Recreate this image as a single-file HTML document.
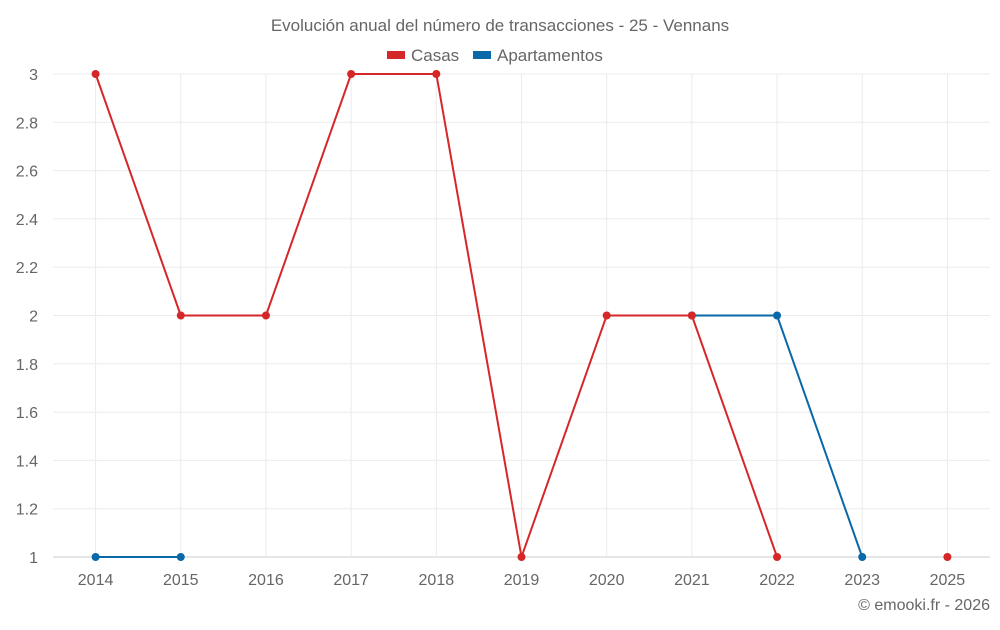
<!DOCTYPE html>
<html><head><meta charset="utf-8"><style>
body{margin:0;background:#fff;font-family:"Liberation Sans",sans-serif}
svg text{font-family:"Liberation Sans",sans-serif;fill:#666}
</style></head><body>
<svg width="1000" height="625">
<text x="500" y="31" text-anchor="middle" font-size="17">Evolución anual del número de transacciones - 25 - Vennans</text>
<g>
<rect x="387" y="51" width="18" height="8" fill="#d62728"/>
<text x="411" y="61" font-size="17">Casas</text>
<rect x="473" y="51" width="18" height="8" fill="#0868a8"/>
<text x="497" y="61" font-size="17">Apartamentos</text>
</g>
<g id="grid"></g><g id="axes"></g><g id="series"></g>
<text x="990" y="610" text-anchor="end" font-size="16">© emooki.fr - 2026</text>
</svg>
<script>
const categories=["2014","2015","2016","2017","2018","2019","2020","2021","2022","2023","2025"];
const casas=[3,2,2,3,3,1,2,2,1,null,1];
const apartamentos=[1,1,null,null,null,null,null,2,2,1,null];
const yTicks=[1,1.2,1.4,1.6,1.8,2,2.2,2.4,2.6,2.8,3];
const L=53,R=990,T=74,B=557,yMin=1,yMax=3;
const bw=(R-L)/categories.length;
const x=i=>L+bw*(i+0.5);
const y=v=>B-(v-yMin)/(yMax-yMin)*(B-T);
const NS="http://www.w3.org/2000/svg";
function mk(tag,attrs,parent){const e=document.createElementNS(NS,tag);for(const k in attrs)e.setAttribute(k,attrs[k]);parent.appendChild(e);return e;}
const grid=document.getElementById('grid'),axes=document.getElementById('axes'),series=document.getElementById('series');
yTicks.forEach(t=>{
 const l=mk('line',{x1:L,x2:R,y1:y(t),y2:y(t),stroke:t===1?'#ccc':'#ebebeb'},grid);
 
 
 const tx=mk('text',{x:38,y:y(t)+6,'text-anchor':'end','font-size':16},axes);
 tx.textContent=String(t);
 
 
});
categories.forEach((c,i)=>{
 const l=mk('line',{x1:x(i),x2:x(i),y1:T,y2:B,stroke:'#ebebeb'},grid);
 
 
 const tx=mk('text',{x:x(i),y:585,'text-anchor':'middle','font-size':16},axes);
 tx.textContent=c;
 
 
});
function draw(vals,color,name){
 let d='',pen=false;
 vals.forEach((v,i)=>{if(v==null){pen=false;return;}d+=(pen?'L':'M')+x(i)+','+y(v);pen=true;});
 const p=mk('path',{d:d,fill:'none',stroke:color,'stroke-width':2},series);
 
 
 vals.forEach((v,i)=>{if(v==null)return;
  const c=mk('circle',{cx:x(i),cy:y(v),r:4,fill:color},series);
  
  
 });
}
draw(apartamentos,'#0868a8','apartamentos');
draw(casas,'#d62728','casas');
</script>
</body></html>
